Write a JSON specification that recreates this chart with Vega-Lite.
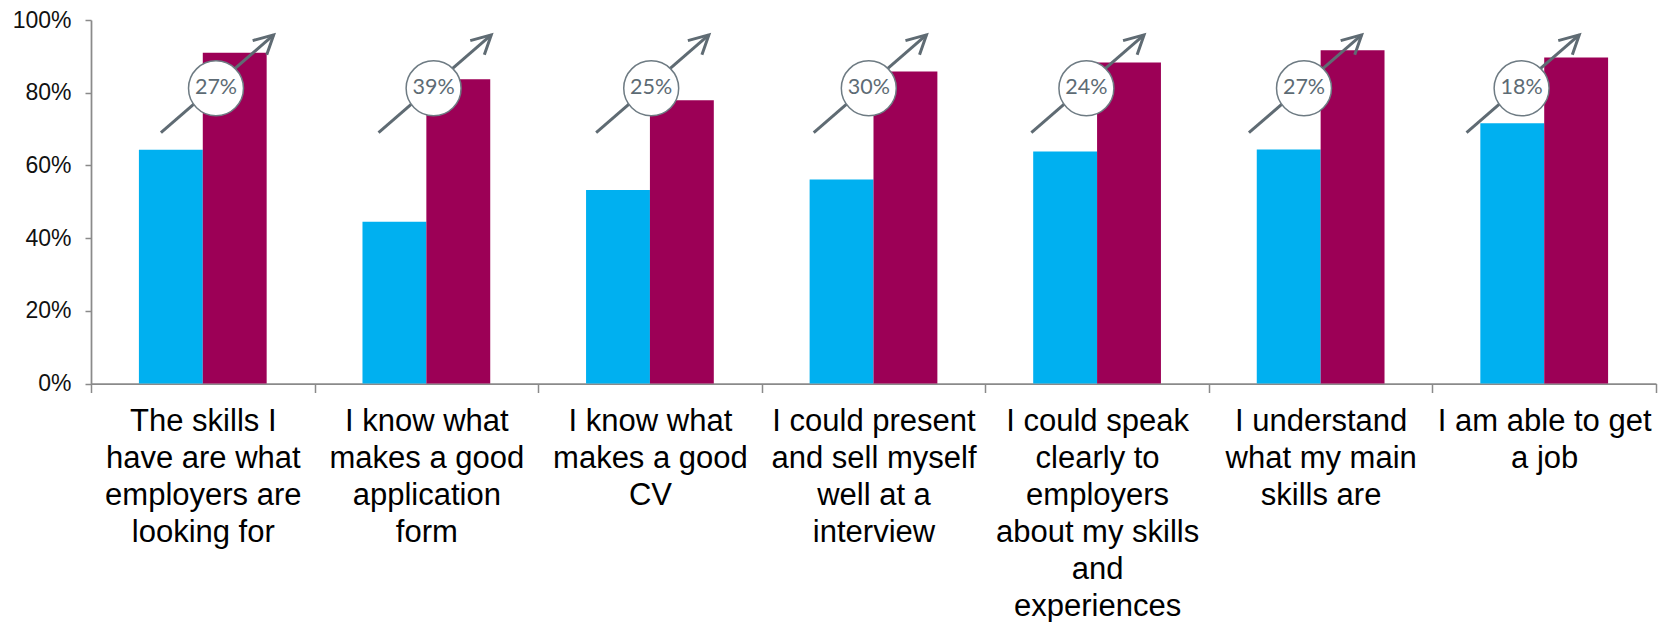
{
  "$schema": "https://vega.github.io/schema/vega-lite/v6.json",
  "width": 1565,
  "height": 363.5,
  "autosize": {"type": "none"},
  "padding": {"left": 91, "top": 20, "right": 21, "bottom": 238.5},
  "background": "white",
  "config": {"view": {"stroke": null}, "font": "Liberation Sans"},
  "datasets": {
    "bars": [
      {"statement": "The skills I have are what employers are looking for", "wave": "Before", "share": 0.643},
      {"statement": "The skills I have are what employers are looking for", "wave": "After", "share": 0.910},
      {"statement": "I know what makes a good application form", "wave": "Before", "share": 0.445},
      {"statement": "I know what makes a good application form", "wave": "After", "share": 0.837},
      {"statement": "I know what makes a good CV", "wave": "Before", "share": 0.532},
      {"statement": "I know what makes a good CV", "wave": "After", "share": 0.779},
      {"statement": "I could present and sell myself well at a interview", "wave": "Before", "share": 0.561},
      {"statement": "I could present and sell myself well at a interview", "wave": "After", "share": 0.858},
      {"statement": "I could speak clearly to employers about my skills and experiences", "wave": "Before", "share": 0.638},
      {"statement": "I could speak clearly to employers about my skills and experiences", "wave": "After", "share": 0.883},
      {"statement": "I understand what my main skills are", "wave": "Before", "share": 0.644},
      {"statement": "I understand what my main skills are", "wave": "After", "share": 0.917},
      {"statement": "I am able to get a job", "wave": "Before", "share": 0.716},
      {"statement": "I am able to get a job", "wave": "After", "share": 0.897}
    ],
    "changes": [
      {"statement": "The skills I have are what employers are looking for", "change": 0.27},
      {"statement": "I know what makes a good application form", "change": 0.39},
      {"statement": "I know what makes a good CV", "change": 0.25},
      {"statement": "I could present and sell myself well at a interview", "change": 0.30},
      {"statement": "I could speak clearly to employers about my skills and experiences", "change": 0.24},
      {"statement": "I understand what my main skills are", "change": 0.27},
      {"statement": "I am able to get a job", "change": 0.18}
    ]
  },
  "layer": [
    {
      "data": {"name": "bars"},
      "mark": {"type": "bar"},
      "encoding": {
        "x": {
          "field": "statement", "type": "nominal", "sort": null,
          "scale": {"paddingInner": 0, "paddingOuter": 0},
          "axis": {
            "title": null, "labelAngle": 0, "tickBand": "extent", "tickSize": 9, "tickWidth": 1.5,
            "tickColor": "#8a8a8a", "domainColor": "#8a8a8a", "domainWidth": 1.75,
            "labelFont": "Liberation Sans", "labelFontSize": 31, "labelLineHeight": 37,
            "labelColor": "#000000", "labelPadding": 14, "labelBaseline": "top",
            "labelLimit": 0, "labelOverlap": false, "labelBound": false, "grid": false,
            "labelExpr": "datum.value == 'The skills I have are what employers are looking for' ? ['The skills I','have are what','employers are','looking for'] : datum.value == 'I know what makes a good application form' ? ['I know what','makes a good','application','form'] : datum.value == 'I know what makes a good CV' ? ['I know what','makes a good','CV'] : datum.value == 'I could present and sell myself well at a interview' ? ['I could present','and sell myself','well at a','interview'] : datum.value == 'I could speak clearly to employers about my skills and experiences' ? ['I could speak','clearly to','employers','about my skills','and','experiences'] : datum.value == 'I understand what my main skills are' ? ['I understand','what my main','skills are'] : datum.value == 'I am able to get a job' ? ['I am able to get','a job'] : ''"
          }
        },
        "xOffset": {"field": "wave", "type": "nominal", "sort": ["Before", "After"], "scale": {"paddingInner": 0, "paddingOuter": 0.75}},
        "y": {
          "field": "share", "type": "quantitative",
          "scale": {"domain": [0, 1]},
          "axis": {
            "title": null, "values": [0, 0.2, 0.4, 0.6, 0.8, 1], "format": ".0%", "grid": false,
            "tickSize": 6, "tickWidth": 1.5, "tickColor": "#8a8a8a", "domainColor": "#8a8a8a", "domainWidth": 1.75,
            "labelFont": "Liberation Sans", "labelFontSize": 23, "labelColor": "#111111", "labelPadding": 14
          }
        },
        "color": {
          "field": "wave", "type": "nominal", "sort": ["Before", "After"],
          "scale": {"domain": ["Before", "After"], "range": ["#00B0F0", "#9C0056"]},
          "legend": null
        }
      }
    },
    {
      "data": {"name": "changes"},
      "layer": [
        {
          "mark": {"type": "rule", "stroke": "#5f6b73", "strokeWidth": 3},
          "encoding": {
            "x": {"field": "statement", "type": "nominal", "sort": null, "bandPosition": 0.247, "scale": {"range": [16.2, 1539.4], "paddingInner": 0, "paddingOuter": 0}, "axis": null},
            "x2": {"field": "statement", "bandPosition": 0.765},
            "y": {"datum": 0.69, "type": "quantitative"},
            "y2": {"datum": 0.959}
          }
        },
        {
          "mark": {"type": "point", "shape": "M-1,0.27L0,0L-0.33,0.95", "size": 1764, "filled": false, "stroke": "#5f6b73", "strokeWidth": 3, "opacity": 1},
          "encoding": {
            "x": {"field": "statement", "type": "nominal", "sort": null, "bandPosition": 0.765, "axis": null},
            "y": {"datum": 0.959, "type": "quantitative"}
          }
        },
        {
          "mark": {"type": "point", "shape": "circle", "size": 3020, "filled": true, "fill": "#ffffff", "stroke": "#6e7b83", "strokeWidth": 1.5, "opacity": 1},
          "encoding": {
            "x": {"field": "statement", "type": "nominal", "sort": null, "bandPosition": 0.5, "axis": null},
            "y": {"datum": 0.812, "type": "quantitative"}
          }
        },
        {
          "mark": {"type": "text", "font": "Lato", "fontSize": 21.5, "color": "#5d6b74", "align": "center", "baseline": "middle"},
          "encoding": {
            "x": {"field": "statement", "type": "nominal", "sort": null, "bandPosition": 0.5, "axis": null},
            "y": {"datum": 0.812, "type": "quantitative"},
            "text": {"field": "change", "type": "quantitative", "format": ".0%"}
          }
        }
      ]
    }
  ],
  "resolve": {"scale": {"x": "independent"}}
}
